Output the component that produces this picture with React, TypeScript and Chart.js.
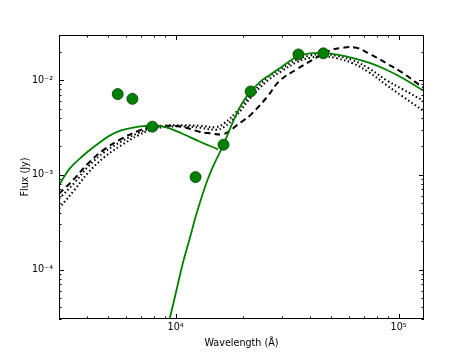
import React, { useEffect, useRef } from 'react';
import { Chart, registerables } from 'chart.js';
Chart.register(...registerables);

// Observed photometry
const obsWav = [5500, 6400, 7870, 12290, 16400, 21700, 35550, 46000];
const obsFlux = [7.13e-3, 6.35e-3, 3.23e-3, 9.46e-4, 2.08e-3, 7.6e-3, 1.87e-2, 1.92e-2];

// Green model: stellar component
const starWav = [3000, 3335, 3830, 4395, 5040, 5700, 6550, 7200, 7800, 9000, 10790, 12800, 14200, 15490];
const starFlux = [7.7e-4, 1.15e-3, 1.58e-3, 2.05e-3, 2.58e-3, 2.95e-3, 3.18e-3, 3.27e-3, 3.3e-3, 3.2e-3, 2.7e-3, 2.25e-3, 2.03e-3, 1.86e-3];

// Green model: dust component
const dustWav = [9000, 9800, 10790, 11600, 12380, 13720, 14960, 16400, 17450, 19030, 20300, 21700, 24000, 26370, 30200, 33000, 35800, 40000, 46000, 53000, 62500, 74100, 88100, 104500, 124000, 130000];
const dustFlux = [1.97e-5, 4.5e-5, 1.18e-4, 2.17e-4, 3.8e-4, 8.1e-4, 1.33e-3, 2.08e-3, 2.99e-3, 4.72e-3, 6.17e-3, 7.57e-3, 9.64e-3, 1.13e-2, 1.4e-2, 1.63e-2, 1.81e-2, 1.92e-2, 1.94e-2, 1.86e-2, 1.71e-2, 1.52e-2, 1.29e-2, 1.05e-2, 8.2e-3, 7.7e-3];

// Black dashed model
const dashWav = [3000, 3530, 4050, 4810, 5710, 6770, 7800, 9000, 10790, 12800, 14200, 16230, 17450, 18700, 20000, 21700, 25800, 29200, 34700, 41200, 48900, 56000, 64600, 74100, 88100, 104500, 124000, 130000];
const dashFlux = [6.3e-4, 9.2e-4, 1.32e-3, 1.87e-3, 2.4e-3, 2.9e-3, 3.2e-3, 3.3e-3, 3.2e-3, 2.85e-3, 2.75e-3, 2.68e-3, 2.9e-3, 3.3e-3, 3.7e-3, 4.3e-3, 6.7e-3, 9.8e-3, 1.29e-2, 1.64e-2, 2.05e-2, 2.2e-2, 2.2e-2, 1.9e-2, 1.51e-2, 1.19e-2, 8.9e-3, 8.3e-3];

// Black dotted models
const dotWav = [3000, 3530, 4050, 4810, 5710, 6770, 7800, 9000, 10790, 12800, 15200, 16500, 18700, 21700, 26000, 30000, 35000, 40000, 46000, 53000, 62500, 74100, 88100, 104500, 130000];
const dotFluxA = [5.6e-4, 8.3e-4, 1.22e-3, 1.75e-3, 2.25e-3, 2.75e-3, 3.1e-3, 3.3e-3, 3.35e-3, 3.3e-3, 3.2e-3, 3.5e-3, 4.6e-3, 7.0e-3, 1.08e-2, 1.33e-2, 1.65e-2, 1.82e-2, 1.88e-2, 1.8e-2, 1.62e-2, 1.32e-2, 1.0e-2, 8.0e-3, 6.0e-3];
const dotFluxB = [4.4e-4, 7.0e-4, 1.05e-3, 1.55e-3, 2.05e-3, 2.6e-3, 3.0e-3, 3.2e-3, 3.25e-3, 3.15e-3, 3.0e-3, 3.2e-3, 4.2e-3, 6.5e-3, 1.0e-2, 1.25e-2, 1.55e-2, 1.72e-2, 1.78e-2, 1.7e-2, 1.5e-2, 1.2e-2, 8.9e-3, 6.7e-3, 4.7e-3];

const xTickValues = [1e4, 1e5];
const xTickLabels = ['10⁴', '10⁵'];
const yTickValues = [1e-4, 1e-3, 1e-2];
const yTickLabels = ['10⁻⁴', '10⁻³', '10⁻²'];

const X_MIN = 3000, X_MAX = 1.3e5, Y_MIN = 3e-5, Y_MAX = 0.03;
const FONT = 'DejaVu Sans';

const toXY = (xs: number[], ys: number[]) => xs.map((x, i) => ({ x, y: ys[i] }));

export default function App() {
  const ref = useRef<HTMLCanvasElement>(null);
  useEffect(() => {
    if (!ref.current) return;
    const framePlugin = {
      id: 'frame',
      afterDraw(chart: any) {
        const { ctx, chartArea: a, scales } = chart;
        ctx.save();
        ctx.strokeStyle = '#000';
        ctx.lineWidth = 1;
        ctx.strokeRect(a.left + 0.5, a.top + 0.5, a.right - a.left - 1, a.bottom - a.top - 1);
        const logTicks = (min: number, max: number) => {
          const out: { v: number; major: boolean }[] = [];
          for (let d = Math.floor(Math.log10(min)); d <= Math.ceil(Math.log10(max)); d++) {
            for (let k = 1; k <= 9; k++) {
              const v = k * Math.pow(10, d);
              if (v >= min && v <= max) out.push({ v, major: k === 1 });
            }
          }
          return out;
        };
        ctx.beginPath();
        for (const t of logTicks(X_MIN, X_MAX)) {
          const p = Math.round(scales.x.getPixelForValue(t.v)) + 0.5;
          const len = t.major ? 5 : 2.5;
          ctx.moveTo(p, a.bottom); ctx.lineTo(p, a.bottom - len);
          ctx.moveTo(p, a.top); ctx.lineTo(p, a.top + len);
        }
        for (const t of logTicks(Y_MIN, Y_MAX)) {
          const p = Math.round(scales.y.getPixelForValue(t.v)) + 0.5;
          const len = t.major ? 5 : 2.5;
          ctx.moveTo(a.left, p); ctx.lineTo(a.left + len, p);
          ctx.moveTo(a.right, p); ctx.lineTo(a.right - len, p);
        }
        ctx.stroke();
        ctx.restore();
      },
    };

    const lineBase = { pointRadius: 0, tension: 0.4, fill: false, clip: 0 };
    const chart = new Chart(ref.current, {
      type: 'line',
      data: {
        datasets: [
          {
            data: toXY(obsWav, obsFlux),
            showLine: false,
            pointRadius: 5.5,
            pointBackgroundColor: '#008000',
            pointBorderColor: '#003a00',
            pointBorderWidth: 0.8,
            clip: false as any,
          },
          { ...lineBase, data: toXY(starWav, starFlux), borderColor: '#008000', borderWidth: 1.8 },
          { ...lineBase, data: toXY(dustWav, dustFlux), borderColor: '#008000', borderWidth: 1.8 },
          { ...lineBase, data: toXY(dashWav, dashFlux), borderColor: '#000', borderWidth: 2, borderDash: [6, 4] },
          { ...lineBase, data: toXY(dotWav, dotFluxA), borderColor: '#000', borderWidth: 2, borderDash: [1.5, 2.5] },
          { ...lineBase, data: toXY(dotWav, dotFluxB), borderColor: '#000', borderWidth: 2, borderDash: [1.5, 2.5] },
        ] as any,
      },
      options: {
        animation: false,
        responsive: false,
        devicePixelRatio: 1,
        layout: { padding: { left: 0, right: 47, top: 35, bottom: 0 } },
        plugins: { legend: { display: false }, tooltip: { enabled: false } },
        scales: {
          x: {
            type: 'logarithmic',
            min: X_MIN,
            max: X_MAX,
            grid: { display: false, drawTicks: false },
            border: { display: false },
            afterBuildTicks: (s: any) => { s.ticks = xTickValues.map((v) => ({ value: v })); },
            afterFit: (s: any) => { s.height = 37; },
            ticks: {
              autoSkip: false,
              maxRotation: 0,
              padding: 3,
              color: '#000',
              font: { family: FONT, size: 9.6 },
              callback: (_v: any, i: number) => xTickLabels[i],
            },
            title: {
              display: true,
              text: 'Wavelength (Å)',
              color: '#000',
              font: { family: FONT, size: 9.6 },
              padding: { top: 0, bottom: 7 },
            },
          },
          y: {
            type: 'logarithmic',
            min: Y_MIN,
            max: Y_MAX,
            grid: { display: false, drawTicks: false },
            border: { display: false },
            afterBuildTicks: (s: any) => { s.ticks = yTickValues.map((v) => ({ value: v })); },
            afterFit: (s: any) => { s.width = 59; },
            ticks: {
              autoSkip: false,
              padding: 6,
              color: '#000',
              font: { family: FONT, size: 9.6 },
              callback: (_v: any, i: number) => yTickLabels[i],
            },
            title: {
              display: true,
              text: 'Flux (Jy)',
              color: '#000',
              font: { family: FONT, size: 9.6 },
              padding: { top: 19.5, bottom: 0 },
            },
          },
        },
      } as any,
      plugins: [framePlugin],
    });
    return () => chart.destroy();
  }, []);
  return (
    <div style={{ position: 'absolute', left: 0, top: 0, width: 471, height: 356 }}>
      <canvas ref={ref} width={471} height={356} style={{ display: 'block', width: 471, height: 356 }} />
    </div>
  );
}
